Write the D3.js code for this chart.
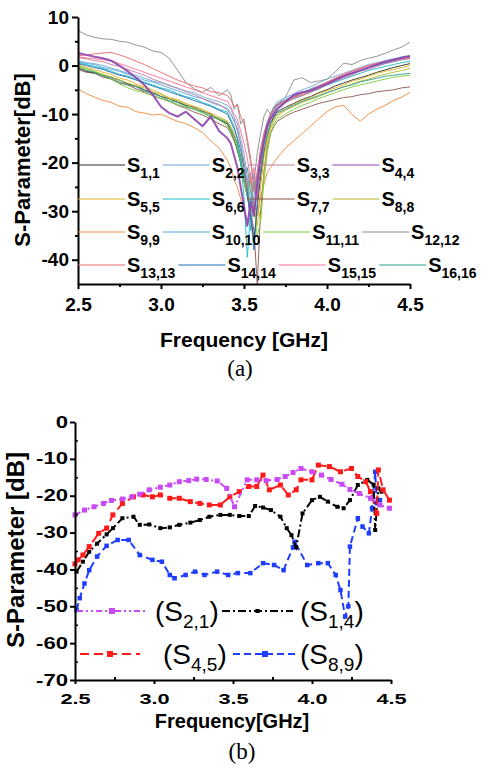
<!DOCTYPE html>
<html>
<head>
<meta charset="utf-8">
<script src="https://cdn.jsdelivr.net/npm/d3@7"></script>
<style>
body { margin: 0; background: #fff; }
svg text { font-family: Arial, "Liberation Sans", Helvetica, sans-serif; }
svg text.serif { font-family: "Times New Roman", "Liberation Serif", serif; }
</style>
</head>
<body>
<div id="chart"></div>
<script>
// ---------- (a) reflection coefficients S_ii ----------
const topFreq = [2.50,2.55,2.60,2.65,2.70,2.75,2.80,2.85,2.90,2.95,3.00,3.05,3.10,3.15,3.20,3.25,3.30,3.35,3.40,
  3.42,3.44,3.46,3.48,3.50,3.52,3.54,3.56,3.58,3.60,3.62,3.64,3.66,3.68,
  3.70,3.75,3.80,3.85,3.90,3.95,4.00,4.05,4.10,4.15,4.20,4.25,4.30,4.35,4.40,4.45,4.50];

const s1_1 = [-0.5,-1.2,-1.5,-2.0,-2.4,-3.0,-3.8,-4.2,-5.0,-5.6,-6.4,-6.8,-7.5,-8.2,-8.6,-9.4,-10.0,-11.2,-12.0,
  -13.5,-15.0,-17.5,-20.0,-24.0,-27.0,-31.0,-36.0,-29.0,-23.0,-18.0,-14.5,-12.0,-10.5,
  -9.5,-8.6,-7.8,-7.0,-6.4,-5.6,-5.0,-4.2,-3.6,-3.0,-2.5,-2.0,-1.4,-0.9,-0.4,0.0,0.4];
const s2_2 = [1.0,0.6,0.4,0.0,-0.5,-1.0,-1.6,-2.0,-2.6,-3.2,-3.6,-4.0,-4.8,-5.2,-5.6,-6.4,-7.0,-7.4,-8.2,
  -9.0,-10.5,-12.0,-15.0,-18.0,-23.0,-28.0,-22.0,-26.0,-19.0,-15.0,-12.0,-10.0,-8.5,
  -7.5,-6.6,-5.8,-5.0,-4.4,-3.6,-2.8,-2.2,-1.6,-1.0,-0.4,0.2,0.6,1.0,1.4,1.8,2.1];
const s3_3 = [1.6,1.4,1.0,0.8,0.2,-0.2,-0.8,-1.4,-2.0,-2.8,-3.4,-4.2,-4.6,-5.4,-6.0,-6.8,-7.4,-8.0,-9.2,
  -10.0,-11.5,-13.0,-16.5,-20.0,-25.0,-22.0,-30.0,-24.0,-20.0,-16.0,-13.0,-11.0,-9.8,
  -8.8,-7.6,-6.8,-6.2,-5.6,-4.8,-4.0,-3.2,-2.6,-2.0,-1.2,-0.8,-0.2,0.4,0.8,1.2,1.4];
const s4_4 = [2.6,2.2,1.8,1.5,1.0,0.0,-1.2,-2.5,-4.0,-6.0,-8.5,-9.8,-10.5,-9.5,-11.0,-12.5,-10.5,-13.5,-15.0,
  -16.0,-18.5,-21.0,-25.0,-29.0,-33.0,-28.0,-31.0,-24.0,-19.0,-15.5,-12.5,-11.0,-10.0,
  -9.0,-7.5,-6.0,-5.5,-5.2,-4.5,-3.8,-3.0,-2.2,-1.6,-1.0,-0.4,0.2,0.8,1.2,1.6,1.9];
const s5_5 = [0.2,-0.4,-0.8,-1.4,-1.8,-2.6,-3.0,-3.8,-4.4,-5.0,-5.8,-6.6,-7.0,-7.8,-8.4,-9.0,-9.8,-10.6,-11.4,
  -12.5,-14.0,-16.0,-19.0,-22.5,-26.0,-24.0,-29.0,-33.0,-25.0,-19.0,-15.0,-12.5,-11.0,
  -10.2,-9.0,-8.0,-7.2,-6.6,-5.8,-5.2,-4.6,-4.0,-3.2,-2.8,-2.2,-1.6,-1.2,-0.8,-0.4,0.0];
const s6_6 = [0.6,0.2,-0.2,-0.6,-1.2,-1.8,-2.2,-2.8,-3.4,-4.0,-4.6,-5.0,-5.8,-6.4,-6.8,-7.6,-8.2,-9.0,-9.6,
  -11.0,-12.5,-15.0,-20.0,-27.0,-39.5,-30.0,-24.0,-27.0,-20.0,-16.0,-13.0,-11.0,-9.6,
  -8.6,-7.6,-6.8,-6.2,-5.4,-4.8,-4.0,-3.4,-2.8,-2.2,-1.6,-1.0,-0.6,-0.2,0.2,0.6,0.9];
const s7_7 = [-0.8,-1.4,-1.6,-2.4,-2.8,-3.6,-4.0,-4.8,-5.4,-6.2,-6.8,-7.4,-8.2,-8.8,-9.6,-10.2,-11.0,-12.0,-12.8,
  -14.0,-15.5,-17.0,-20.0,-23.0,-26.0,-30.0,-34.0,-45.0,-30.0,-22.0,-17.0,-14.0,-12.5,
  -11.5,-10.4,-9.6,-9.0,-8.4,-7.8,-7.4,-7.0,-6.6,-6.4,-6.0,-5.8,-5.4,-5.2,-5.0,-4.6,-4.4];
const s8_8 = [-0.2,-0.8,-1.2,-1.8,-2.4,-3.0,-3.6,-4.2,-4.6,-5.4,-6.0,-6.8,-7.2,-8.0,-8.8,-9.2,-10.2,-10.8,-11.6,
  -12.8,-14.5,-16.5,-18.5,-21.0,-25.0,-29.0,-24.0,-28.0,-32.0,-22.0,-16.0,-13.0,-11.4,
  -10.4,-9.2,-8.4,-7.6,-7.0,-6.4,-5.6,-5.0,-4.4,-3.8,-3.2,-2.8,-2.2,-1.8,-1.4,-1.0,-0.6];
const s9_9 = [-4.8,-5.8,-6.5,-7.2,-7.6,-8.4,-8.6,-9.5,-9.8,-10.2,-10.0,-10.8,-11.5,-12.0,-12.8,-13.8,-15.5,-17.0,-19.5,
  -21.0,-23.5,-25.0,-27.5,-30.0,-33.0,-30.5,-28.0,-31.0,-27.0,-24.5,-22.0,-21.0,-20.0,
  -19.0,-17.0,-15.5,-14.0,-12.5,-11.0,-9.5,-8.5,-8.2,-10.0,-11.5,-10.0,-9.0,-8.2,-7.2,-6.5,-5.5];
const s10_10 = [0.8,0.4,0.2,-0.4,-0.8,-1.2,-1.8,-2.4,-3.0,-3.4,-4.0,-4.6,-5.2,-5.8,-6.4,-6.8,-7.6,-8.2,-8.8,
  -10.0,-11.0,-13.5,-16.0,-20.0,-24.0,-34.0,-27.0,-22.0,-18.0,-14.0,-11.5,-10.0,-8.8,
  -8.0,-7.0,-6.2,-5.6,-4.8,-4.2,-3.4,-2.8,-2.2,-1.6,-1.0,-0.4,0.0,0.4,0.8,1.2,1.5];
const s11_11 = [0.0,-0.6,-1.2,-2.0,-2.8,-3.8,-4.6,-5.2,-5.6,-6.2,-6.8,-7.4,-8.0,-8.6,-9.0,-9.8,-10.6,-11.2,-12.4,
  -13.5,-15.0,-17.0,-20.0,-24.0,-27.0,-23.0,-29.0,-35.0,-32.0,-24.0,-18.0,-14.0,-12.0,
  -11.0,-10.0,-9.0,-8.2,-7.6,-6.8,-6.2,-5.6,-5.0,-4.4,-4.0,-3.6,-3.2,-2.8,-2.4,-2.2,-2.0];
const s12_12 = [7.2,6.3,5.8,5.5,5.4,5.0,4.8,4.2,3.8,3.0,2.7,1.5,-1.0,-3.5,-4.8,-5.5,-4.5,-6.2,-5.0,
  -6.0,-9.0,-8.0,-12.0,-11.0,-16.0,-20.0,-24.0,-18.0,-14.0,-10.5,-9.0,-10.0,-8.5,
  -8.0,-6.5,-3.0,-2.5,-3.5,-3.2,-2.8,-1.3,0.5,0.2,1.0,1.5,1.9,2.5,3.2,3.8,4.8];
const s13_13 = [2.0,2.2,2.4,2.6,2.7,2.2,1.6,0.9,0.2,-0.6,-1.4,-2.2,-3.0,-3.6,-4.2,-4.6,-5.4,-5.6,-6.2,
  -7.0,-8.5,-8.0,-10.5,-12.0,-15.0,-19.0,-26.0,-22.0,-17.0,-14.0,-12.0,-10.0,-9.0,
  -8.0,-7.2,-6.5,-6.0,-5.2,-4.4,-3.6,-2.6,-2.0,-1.2,-0.6,0.0,0.4,0.8,1.2,1.5,1.8];
const s14_14 = [0.4,0.0,-0.4,-0.8,-1.4,-2.0,-2.4,-3.0,-3.6,-4.2,-4.8,-5.4,-6.0,-6.6,-7.2,-7.8,-8.4,-9.2,-10.0,
  -11.5,-13.0,-15.0,-17.5,-21.0,-26.0,-31.0,-38.0,-28.0,-21.0,-16.0,-12.5,-10.5,-9.2,
  -8.2,-7.2,-6.4,-5.6,-5.0,-4.2,-3.6,-2.8,-2.2,-1.6,-1.0,-0.4,0.2,0.6,1.0,1.4,1.8];
const s15_15 = [1.8,1.6,1.4,1.2,1.0,0.4,-0.2,-0.8,-1.4,-2.0,-2.6,-3.2,-3.8,-4.4,-5.0,-5.6,-6.2,-6.8,-7.4,
  -8.5,-10.0,-11.0,-13.5,-16.0,-19.0,-24.0,-21.0,-27.0,-20.0,-15.0,-12.0,-10.5,-9.0,
  -8.4,-7.4,-6.6,-5.8,-5.0,-4.2,-3.4,-2.6,-1.8,-1.2,-0.6,0.0,0.4,0.8,1.2,1.4,1.6];
const s16_16 = [-0.4,-1.0,-1.4,-2.2,-2.6,-3.4,-4.0,-4.4,-5.2,-5.8,-6.4,-7.2,-7.6,-8.4,-9.0,-9.6,-10.4,-11.0,-11.8,
  -13.0,-14.5,-16.0,-19.0,-23.0,-21.0,-26.0,-30.0,-25.0,-22.0,-17.5,-14.0,-12.0,-10.8,
  -9.8,-9.0,-8.2,-7.4,-6.8,-6.2,-5.6,-5.0,-4.4,-4.0,-3.4,-3.0,-2.6,-2.2,-2.0,-1.8,-1.6];

const topNames = ['1,1','2,2','3,3','4,4','5,5','6,6','7,7','8,8','9,9','10,10','11,11','12,12','13,13','14,14','15,15','16,16'];
const topSeries = [s1_1,s2_2,s3_3,s4_4,s5_5,s6_6,s7_7,s8_8,s9_9,s10_10,s11_11,s12_12,s13_13,s14_14,s15_15,s16_16];
const topColors = ['#2a2a2a','#6fa6d6','#c27ba0','#8e44ad','#e0b020','#17becf','#8c564b','#b8b82a',
                   '#f0883a','#4fa8dc','#7ccd3c','#8a8a8a','#e8676b','#1f6fb4','#ff6f91','#2ca089'];

// ---------- (b) transmission coefficients ----------
const fS21 = [2.50,2.56,2.62,2.68,2.73,2.80,2.86,2.91,2.97,3.04,3.10,3.16,3.22,3.27,3.33,3.40,3.46,3.51,3.59,3.65,3.71,3.78,3.83,3.88,3.93,4.00,4.06,4.12,4.19,4.24,4.30,4.37,4.43,4.49];
const vS21 = [-25.2,-23.9,-23.0,-22.1,-21.3,-20.9,-20.3,-19.6,-18.4,-17.7,-17.1,-16.2,-15.9,-15.5,-15.6,-16.0,-18.0,-23.0,-15.7,-15.7,-15.9,-15.6,-14.8,-13.7,-12.6,-13.5,-14.4,-15.6,-16.9,-18.3,-19.4,-20.7,-22.5,-23.4];

const fS14 = [2.51,2.55,2.59,2.64,2.70,2.74,2.80,2.87,2.91,2.97,3.04,3.10,3.16,3.23,3.29,3.35,3.42,3.48,3.54,3.60,3.64,3.69,3.74,3.80,3.84,3.87,3.90,3.94,4.00,4.05,4.10,4.16,4.20,4.24,4.29,4.35,4.39,4.40,4.42,4.44];
const vS14 = [-40.6,-37.9,-35.2,-33.0,-30.5,-28.8,-26.1,-25.7,-27.9,-27.8,-28.8,-28.6,-27.9,-27.3,-26.6,-25.7,-25.2,-25.2,-25.5,-25.5,-22.8,-23.2,-23.9,-25.7,-28.8,-30.7,-34.0,-24.8,-21.2,-20.3,-21.6,-23.0,-23.4,-21.2,-17.1,-15.7,-17.0,-29.3,-18.0,-18.9];

const fS45 = [2.50,2.52,2.55,2.59,2.65,2.70,2.74,2.80,2.87,2.93,2.99,3.04,3.10,3.16,3.23,3.29,3.35,3.42,3.48,3.54,3.60,3.65,3.69,3.73,3.80,3.85,3.90,3.93,4.00,4.04,4.11,4.18,4.25,4.29,4.34,4.37,4.41,4.42,4.45,4.49];
const vS45 = [-38.5,-37.4,-36.1,-33.8,-30.2,-28.8,-25.2,-22.1,-20.3,-19.8,-20.3,-19.8,-20.7,-20.7,-21.6,-22.1,-22.5,-22.5,-20.3,-18.9,-17.5,-17.5,-14.4,-18.4,-17.1,-19.8,-18.4,-15.7,-15.7,-11.7,-12.1,-13.5,-12.6,-14.8,-16.2,-18.9,-24.8,-13.0,-18.4,-21.2];

const fS89 = [2.51,2.53,2.56,2.59,2.64,2.70,2.77,2.84,2.91,2.99,3.05,3.10,3.13,3.20,3.26,3.32,3.40,3.47,3.53,3.61,3.69,3.76,3.82,3.88,3.89,3.97,4.04,4.10,4.15,4.18,4.21,4.23,4.24,4.29,4.32,4.36,4.38,4.40,4.41,4.43];
const vS89 = [-51.0,-47.8,-43.8,-40.2,-36.5,-33.6,-32.0,-32.0,-36.1,-37.4,-37.9,-41.5,-42.4,-41.5,-40.6,-41.5,-40.6,-41.5,-41.0,-41.0,-38.3,-38.8,-40.2,-34.0,-32.5,-38.8,-38.3,-38.3,-41.5,-45.6,-52.8,-50.0,-33.8,-26.1,-28.4,-30.2,-23.4,-13.5,-22.0,-21.2];

const topXTicks = [2.5, 3.0, 3.5, 4.0, 4.5];
const topYTicks = [-40, -30, -20, -10, 0, 10];
const botYTicks = [-70, -60, -50, -40, -30, -20, -10, 0];

// ---------- svg ----------
const svg = d3.select('#chart')
    .append('svg')
    .attr('width', 493)
    .attr('height', 768);

function styleAxis(g, fontSize) {
    g.selectAll('.domain').attr('stroke', '#000').attr('stroke-width', 2);
    g.selectAll('.tick line').attr('stroke', '#000').attr('stroke-width', 2);
    g.selectAll('.tick text')
        .attr('fill', '#000')
        .attr('font-family', null)
        .style('font-size', fontSize + 'px')
        .style('font-weight', 'bold');
}

// ================= (a) =================
const xTop = d3.scaleLinear().domain([2.5, 4.5]).range([78, 410]);
const yTop = d3.scaleLinear().domain([-45, 10]).range([284, 17]);

const lineTop = d3.line()
    .x((d, i) => xTop(topFreq[i]))
    .y(d => yTop(d));

const drawOrder = [8, 11, 6, 0, 4, 7, 10, 15, 1, 9, 5, 13, 2, 14, 12, 3];
drawOrder.forEach(k => {
    svg.append('path')
        .datum(topSeries[k])
        .attr('d', lineTop)
        .attr('fill', 'none')
        .attr('stroke', topColors[k])
        .attr('stroke-width', k === 3 ? 2 : 1)
        .attr('stroke-linejoin', 'round')
        .attr('opacity', 0.9);
});

// axes
const gxTop = svg.append('g')
    .attr('transform', 'translate(0,284)')
    .call(d3.axisBottom(xTop).tickValues(topXTicks).tickFormat(d3.format('.1f'))
        .tickSize(5).tickSizeOuter(0).tickPadding(9));
styleAxis(gxTop, 19);
svg.append('g')
    .attr('transform', 'translate(0,284)')
    .call(d3.axisBottom(xTop).tickValues([2.75, 3.25, 3.75, 4.25]).tickFormat('').tickSize(3))
    .call(g => g.select('.domain').remove())
    .selectAll('line').attr('stroke', '#000').attr('stroke-width', 2);

const gyTop = svg.append('g')
    .attr('transform', 'translate(78,0)')
    .call(d3.axisLeft(yTop).tickValues(topYTicks).tickFormat(d => String(d))
        .tickSize(6).tickSizeOuter(0).tickPadding(3));
styleAxis(gyTop, 19);
svg.append('g')
    .attr('transform', 'translate(78,0)')
    .call(d3.axisLeft(yTop).tickValues([-35, -25, -15, -5, 5]).tickFormat('').tickSize(3))
    .call(g => g.select('.domain').remove())
    .selectAll('line').attr('stroke', '#000').attr('stroke-width', 2);

// labels
svg.append('text')
    .attr('x', 244).attr('y', 347)
    .attr('text-anchor', 'middle')
    .style('font-size', '21px').style('font-weight', 'bold')
    .text('Frequency [GHz]');
svg.append('text')
    .attr('transform', 'translate(30,160) rotate(-90)')
    .attr('text-anchor', 'middle')
    .style('font-size', '22px').style('font-weight', 'bold')
    .text('S-Parameter[dB]');
svg.append('text')
    .attr('class', 'serif')
    .attr('x', 240).attr('y', 376)
    .attr('text-anchor', 'middle')
    .style('font-size', '23px')
    .text('(a)');

// legend (a): 4 rows, flowing entries
const legRowsY = [165, 199, 232, 265];
for (let r = 0; r < 4; r++) {
    let x = 78;
    for (let c = 0; c < 4; c++) {
        const k = r * 4 + c;
        svg.append('line')
            .attr('x1', x).attr('x2', x + 47)
            .attr('y1', legRowsY[r]).attr('y2', legRowsY[r])
            .attr('stroke', topColors[k]).attr('stroke-width', 1.2);
        const t = svg.append('text')
            .attr('x', x + 49).attr('y', legRowsY[r] + 7)
            .style('font-size', '20px').style('font-weight', 'bold');
        t.append('tspan').text('S');
        t.append('tspan').attr('dy', 6).style('font-size', '14px').text(topNames[k]);
        x = x + 49 + t.node().getComputedTextLength() + 3;
    }
}

// ================= (b) =================
const xBot = d3.scaleLinear().domain([2.5, 4.5]).range([75, 391]);
const yBot = d3.scaleLinear().domain([-70, 0]).range([680, 422]);

const botSeries = [
    { f: fS89, v: vS89, color: '#1f3dff', dash: '7,4', mark: 4.5 },
    { f: fS14, v: vS14, color: '#000000', dash: '8,3,2,3', mark: 4 },
    { f: fS45, v: vS45, color: '#ff1a1a', dash: '9,5', mark: 5 },
    { f: fS21, v: vS21, color: '#c94af5', dash: '6,3,2,3,2,3', mark: 5 }
];

botSeries.forEach(s => {
    const pts = s.f.map((f, i) => [f, s.v[i]]);
    svg.append('path')
        .datum(pts)
        .attr('d', d3.line().x(d => xBot(d[0])).y(d => yBot(d[1])))
        .attr('fill', 'none')
        .attr('stroke', s.color)
        .attr('stroke-width', 2)
        .attr('stroke-dasharray', s.dash);
    svg.selectAll(null)
        .data(pts)
        .enter()
        .append('rect')
        .attr('x', d => xBot(d[0]) - s.mark / 2)
        .attr('y', d => yBot(d[1]) - s.mark / 2)
        .attr('width', s.mark).attr('height', s.mark)
        .attr('fill', s.color);
});

const gxBot = svg.append('g')
    .attr('transform', 'translate(0,680)')
    .call(d3.axisBottom(xBot).tickValues(topXTicks).tickFormat(d3.format('.1f'))
        .tickSize(4).tickSizeOuter(0).tickPadding(9));
styleAxis(gxBot, 15);
gxBot.selectAll('.tick text').attr('transform', 'scale(1.45,1)');
svg.append('g')
    .attr('transform', 'translate(0,680)')
    .call(d3.axisBottom(xBot).tickValues([2.75, 3.25, 3.75, 4.25]).tickFormat('').tickSize(-3))
    .call(g => g.select('.domain').remove())
    .selectAll('line').attr('stroke', '#000').attr('stroke-width', 2);

const gyBot = svg.append('g')
    .attr('transform', 'translate(75,0)')
    .call(d3.axisLeft(yBot).tickValues(botYTicks).tickFormat(d => String(d))
        .tickSize(5).tickSizeOuter(0).tickPadding(2));
styleAxis(gyBot, 16);
gyBot.selectAll('.tick text').attr('x', -7 / 1.38).attr('transform', 'scale(1.38,1)');
svg.append('g')
    .attr('transform', 'translate(75,0)')
    .call(d3.axisLeft(yBot).tickValues([-65, -55, -45, -35, -25, -15, -5]).tickFormat('').tickSize(-3))
    .call(g => g.select('.domain').remove())
    .selectAll('line').attr('stroke', '#000').attr('stroke-width', 1.5);

svg.append('text')
    .attr('x', 232).attr('y', 728)
    .attr('text-anchor', 'middle')
    .style('font-size', '20px').style('font-weight', 'bold')
    .text('Frequency[GHz]');
svg.append('text')
    .attr('transform', 'translate(24,550) rotate(-90)')
    .attr('text-anchor', 'middle')
    .style('font-size', '24px').style('font-weight', 'bold')
    .text('S-Parameter [dB]');
svg.append('text')
    .attr('class', 'serif')
    .attr('x', 242).attr('y', 759)
    .attr('text-anchor', 'middle')
    .style('font-size', '23px')
    .text('(b)');

// legend (b)
const botLegend = [
    { s: 3, x1: 77, x2: 147, y: 611, tx: 155, sub: '2,1' },
    { s: 1, x1: 222, x2: 293, y: 611, tx: 300, sub: '1,4' },
    { s: 2, x1: 80, x2: 140, y: 654, tx: 163, sub: '4,5' },
    { s: 0, x1: 233, x2: 297, y: 654, tx: 300, sub: '8,9' }
];
botLegend.forEach(l => {
    const s = botSeries[l.s];
    svg.append('line')
        .attr('x1', l.x1).attr('x2', l.x2)
        .attr('y1', l.y).attr('y2', l.y)
        .attr('stroke', s.color).attr('stroke-width', 2)
        .attr('stroke-dasharray', s.dash);
    const m = l.s === 1 ? 4 : 6;
    svg.append('rect')
        .attr('x', (l.x1 + l.x2) / 2 - m / 2).attr('y', l.y - m / 2)
        .attr('width', m).attr('height', m)
        .attr('fill', s.color);
    const t = svg.append('text')
        .attr('x', l.tx).attr('y', l.y + 10)
        .style('font-size', '28px');
    t.append('tspan').text('(S');
    t.append('tspan').attr('dy', 7).style('font-size', '19px').text(l.sub);
    t.append('tspan').attr('dy', -7).text(')');
});
</script>
</body>
</html>
